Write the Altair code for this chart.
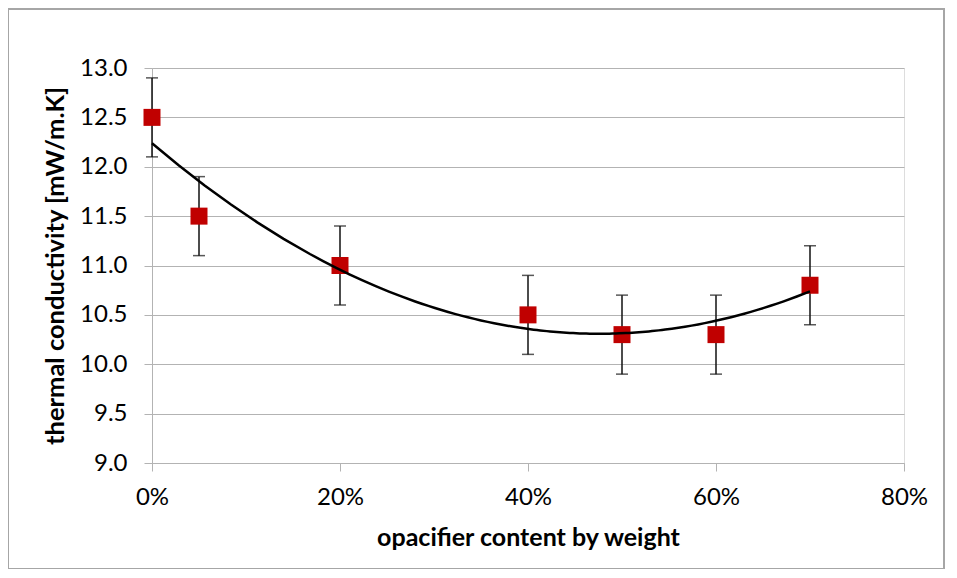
import altair as alt
import pandas as pd

content = [0.0, 0.05, 0.20, 0.40, 0.50, 0.60, 0.70]
conductivity = [12.5, 11.5, 11.0, 10.5, 10.3, 10.3, 10.8]
error = [0.4, 0.4, 0.4, 0.4, 0.4, 0.4, 0.4]

df = pd.DataFrame({"x": content, "y": conductivity, "err": error})

FONT = "Lato"
GRID = "#b3b3b3"

base = alt.Chart(df).transform_calculate(
    lo="datum.y - datum.err", hi="datum.y + datum.err"
)

xscale = alt.Scale(domain=[0, 0.8], nice=False)
yscale = alt.Scale(domain=[9, 13], nice=False, zero=False)

xaxis = alt.Axis(
    title="opacifier content by weight", format=".0%", values=[0, 0.2, 0.4, 0.6, 0.8],
    grid=False, domainColor=GRID, tickColor=GRID, tickSize=8, labelPadding=14,
    labelFlush=False,
    labelFontSize=24, labelFont=FONT, labelColor="#000000",
    titleFont=FONT, titleFontSize=25, titleFontWeight="bold", titleColor="#000000",
    titlePadding=16,
)
yaxis = alt.Axis(
    title="thermal conductivity [mW/m.K]", format=".1f", values=[9, 9.5, 10, 10.5, 11, 11.5, 12, 12.5, 13],
    grid=True, gridColor=GRID, domainColor=GRID, tickColor=GRID, tickSize=8, labelPadding=17,
    labelFlush=False,
    labelFontSize=24, labelFont=FONT, labelColor="#000000",
    titleFont=FONT, titleFontSize=25.5, titleFontWeight="bold", titleColor="#000000",
    titlePadding=11,
)

border = alt.Chart(df).mark_rect(fill=None, stroke="#a6a6a6", strokeWidth=1.5).encode(
    x=alt.value(-144), x2=alt.value(792), y=alt.value(-59), y2=alt.value(501)
)

bars = base.mark_rule(color="#111111", strokeWidth=1.5).encode(
    x=alt.X("x:Q", scale=xscale, axis=xaxis),
    y=alt.Y("lo:Q", scale=yscale, axis=yaxis),
    y2="hi:Q",
)
caps_lo = base.mark_tick(orient="horizontal", color="#111111", size=12, thickness=1.5).encode(
    x="x:Q", y="lo:Q"
)
caps_hi = base.mark_tick(orient="horizontal", color="#111111", size=12, thickness=1.5).encode(
    x="x:Q", y="hi:Q"
)

points = alt.Chart(df).mark_square(size=289, color="#c00000", opacity=1).encode(
    x="x:Q", y="y:Q"
)

trend = alt.Chart(df).transform_regression(
    "x", "y", method="poly", order=2, extent=[0, 0.7]
).mark_line(color="#000000", strokeWidth=2.5).encode(x="x:Q", y="y:Q")

chart = alt.layer(border, bars, caps_lo, caps_hi, points, trend).properties(
    width=752, height=395,
    autosize=alt.AutoSizeParams(type="none"),
    padding={"left": 144, "top": 60, "right": 44, "bottom": 106},
).configure_view(stroke=None).configure(background="#ffffff")

chart.save("out.html", embed_options={"renderer": "svg", "actions": False})
